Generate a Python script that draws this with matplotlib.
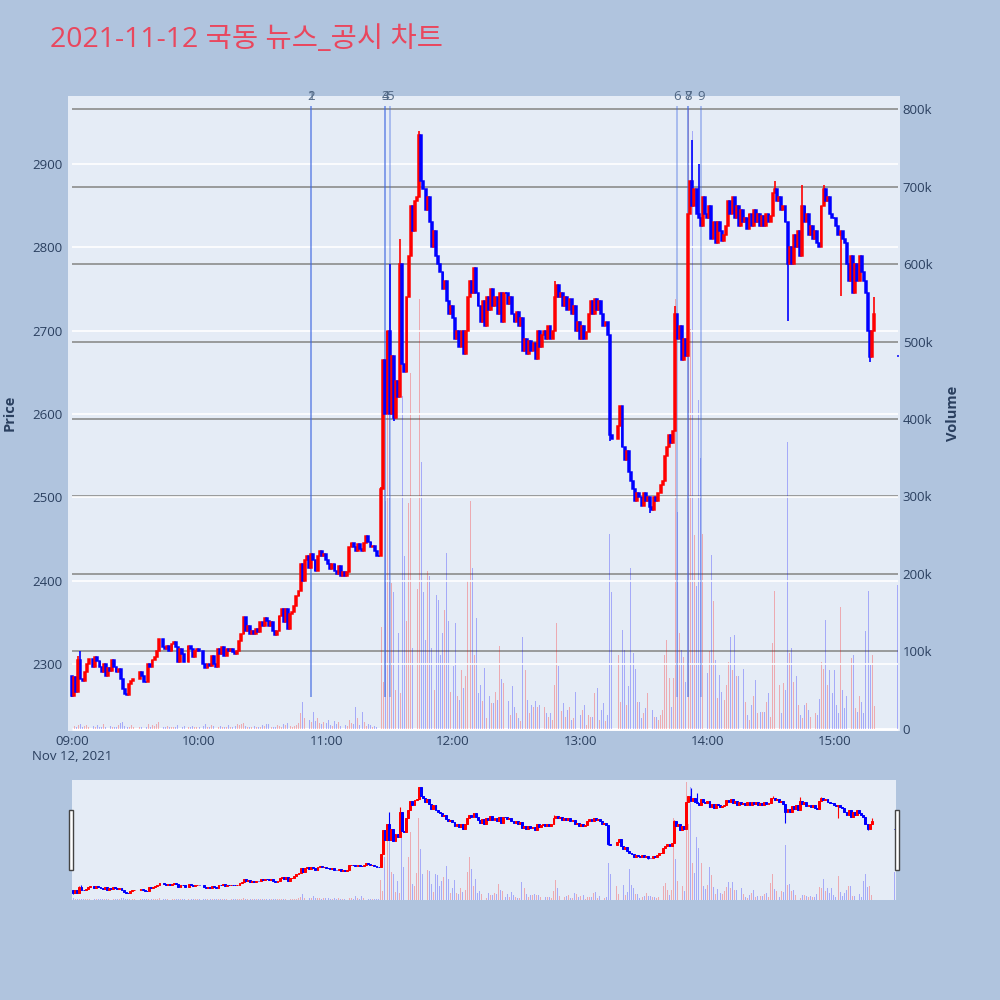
import matplotlib.pyplot as plt
from matplotlib.patches import Rectangle
from matplotlib.transforms import blended_transform_factory

plt.rcParams['font.family'] = ['Open Sans', 'Noto Sans CJK KR', 'DejaVu Sans']

title = '2021-11-12 국동 뉴스_공시 차트'

# 1분봉 종가 (09:00부터 분 단위), None = 체결 없음
first_open = 2285
close_09 = [2262, 2284, 2266, 2305, 2282, 2280, 2290, 2300, 2306, None,
            2296, 2308, 2304, 2296, 2290, 2300, 2286, 2295, 2292, 2305,
            2296, 2290, 2294, 2282, 2270, 2264, 2263, 2276, 2280, 2282,
            None, None, 2290, 2286, 2278, 2278, 2300, 2296, 2305, 2308,
            2316, 2330, None, 2320, 2318, 2322, 2316, 2324, 2326, 2320,
            2302, 2318, 2312, 2302, None, 2322, 2318, 2308, 2315, 2318]
close_10 = [2316, None, 2300, 2295, 2300, 2297, 2310, 2300, 2296, 2318,
            2312, 2320, 2310, 2318, 2316, 2318, 2314, 2312, 2316, 2328,
            2336, 2356, 2340, 2345, 2336, 2340, 2336, 2342, 2338, 2350,
            2346, 2355, 2351, 2345, 2350, 2340, 2335, 2340, 2358, 2366,
            2350, 2366, 2342, 2360, 2362, 2370, 2382, 2388, 2420, 2400,
            2425, 2430, 2415, 2432, 2425, 2412, 2430, 2435, 2430, 2432]
close_11 = [2425, 2420, 2414, 2420, 2412, 2408, 2418, 2406, 2410, 2406,
            2410, 2440, 2445, 2440, 2436, 2444, 2438, 2436, 2445, 2454,
            2446, 2440, 2442, 2435, 2430, 2430, 2510, 2665, 2600, 2700,
            2600, 2670, 2595, 2640, 2620, 2780, 2660, 2650, 2740, 2790,
            2850, 2820, 2855, 2860, 2935, 2880, 2870, 2845, 2860, 2830,
            2800, 2820, 2790, 2780, 2770, 2750, 2760, 2735, 2720, 2730]
close_12 = [2715, 2690, 2700, 2680, 2700, 2672, 2700, 2740, 2760, 2745,
            2775, 2745, 2730, 2710, 2735, 2705, 2740, 2725, 2750, 2730,
            2740, 2720, 2745, 2710, 2745, 2745, 2732, 2740, 2720, 2710,
            2722, 2705, 2715, 2675, 2690, 2672, 2688, 2675, 2685, 2666,
            2700, 2680, 2695, 2700, 2690, 2705, 2690, 2700, 2740, 2755,
            2740, 2745, 2730, 2740, 2725, 2738, 2720, 2730, 2700, 2710]
close_13 = [2690, 2705, 2690, 2698, 2720, 2735, 2720, 2738, 2725, 2735,
            2720, 2705, 2710, 2695, 2575, 2570, None, None, 2585, 2610,
            2560, 2545, 2555, 2530, 2520, 2510, 2495, 2505, 2500, 2490,
            2505, 2495, 2500, 2488, 2485, 2500, 2495, 2505, 2515, 2520,
            2550, 2560, 2575, 2565, 2580, 2720, 2690, 2705, 2665, 2690,
            2670, 2840, 2880, 2850, 2870, 2840, 2835, 2825, 2860, 2840]
close_14 = [2835, 2850, 2810, 2830, 2805, 2830, 2820, 2808, 2815, 2825,
            2855, 2840, 2860, 2835, 2850, 2825, 2845, 2830, 2835, 2822,
            2840, 2825, 2845, 2830, 2840, 2825, 2838, 2826, 2840, 2830,
            2838, 2865, 2870, 2855, 2860, 2845, 2850, 2830, 2780, 2800,
            2780, 2815, 2800, 2820, 2790, 2850, 2830, 2840, 2815, 2825,
            2810, 2820, 2805, 2800, 2850, 2870, 2855, 2860, 2840, 2835]
close_15 = [2835, 2825, 2815, 2820, 2810, 2805, 2780, 2760, 2790, 2745,
            2780, 2760, 2790, 2770, 2760, 2745, 2700, 2668, 2700, 2720]

# 꼬리 (분: 가격)
wick_high = {3: 2310, 4: 2315, 146: 2512, 150: 2780, 155: 2810, 164: 2940,
             228: 2760, 285: 2730, 293: 2929, 296: 2900, 332: 2879,
             345: 2875, 355: 2875, 379: 2740}
wick_low = {0: 2260, 147: 2580, 152: 2592, 254: 2568, 273: 2481,
            338: 2711, 363: 2741, 377: 2662}

# 마지막 체결 (15:30 동시호가)
last_minute = 390
last_price = 2670
last_volume = 186

# 거래량 (천 주)
vol_09 = [9, 4, 3, 5, 6, 3, 4, 5, 3, 0, 4, 3, 5, 3, 2, 6, 3, 2, 4, 3,
          2, 3, 5, 8, 9, 4, 3, 2, 5, 3, 0, 0, 2, 3, 4, 2, 6, 3, 5, 4,
          6, 9, 0, 3, 2, 4, 3, 2, 3, 2, 5, 2, 3, 4, 0, 3, 2, 4, 2, 3]
vol_10 = [2, 0, 4, 6, 3, 2, 5, 4, 2, 3, 4, 3, 2, 3, 5, 3, 2, 4, 6, 5,
          7, 8, 4, 3, 2, 3, 4, 2, 3, 2, 5, 4, 6, 7, 3, 2, 2, 5, 4, 3,
          6, 5, 8, 4, 3, 4, 5, 8, 20, 35, 14, 18, 12, 9, 22, 10, 14, 8, 6, 9]
vol_11 = [8, 12, 5, 4, 10, 6, 9, 4, 3, 5, 4, 12, 8, 6, 28, 14, 5, 22, 9, 4,
          6, 5, 3, 4, 3, 5, 132, 60, 294, 410, 420, 188, 177, 50, 124, 46, 430, 223, 139, 292,
          460, 104, 90, 180, 555, 344, 177, 115, 204, 197, 104, 50, 173, 167, 96, 124, 154, 227, 139, 48]
vol_12 = [81, 137, 42, 38, 76, 53, 68, 191, 294, 208, 96, 143, 46, 57, 36, 79, 14, 42, 33, 33,
          48, 38, 107, 65, 59, 16, 36, 18, 55, 29, 21, 14, 10, 119, 76, 38, 21, 31, 29, 36,
          29, 31, 18, 29, 21, 16, 21, 12, 57, 137, 81, 23, 33, 16, 25, 29, 12, 14, 48, 36]
vol_13 = [18, 25, 31, 5, 18, 16, 16, 46, 53, 12, 25, 33, 10, 18, 251, 177, 0, 0, 96, 35,
          128, 102, 31, 55, 208, 98, 78, 35, 35, 14, 21, 27, 46, 24, 24, 16, 16, 12, 18, 24,
          96, 115, 66, 29, 66, 555, 280, 124, 102, 93, 60, 800, 516, 772, 250, 184, 425, 350, 251, 91]
vol_14 = [72, 100, 225, 165, 89, 40, 70, 48, 37, 57, 86, 119, 76, 121, 68, 68, 55, 78, 35, 18,
          12, 31, 42, 63, 20, 22, 22, 22, 35, 46, 16, 111, 178, 70, 57, 20, 59, 50, 370, 98,
          104, 61, 68, 31, 18, 14, 31, 33, 24, 16, 24, 20, 18, 39, 86, 78, 141, 57, 76, 46]
vol_15 = [76, 31, 20, 158, 50, 27, 42, 63, 91, 96, 27, 22, 42, 35, 20, 126, 178, 83, 96, 30]

# 뉴스/공시 시각 (분)
news_minutes = [113, 113, 148, 148, 150, 286, 291, 291, 297]
news_labels = ['1', '2', '3', '4', '5', '6', '7', '8', '9']

time_ticks = [0, 60, 120, 180, 240, 300, 360]
time_labels = ['09:00\nNov 12, 2021', '10:00', '11:00', '12:00', '13:00', '14:00', '15:00']
price_ticks = [2300, 2400, 2500, 2600, 2700, 2800, 2900]
vol_ticks = [0, 100, 200, 300, 400, 500, 600, 700, 800]

closes = close_09 + close_10 + close_11 + close_12 + close_13 + close_14 + close_15
volumes = vol_09 + vol_10 + vol_11 + vol_12 + vol_13 + vol_14 + vol_15

t, o_, c_, h_, l_, v_ = [], [], [], [], [], []
prev = first_open
for m, c in enumerate(closes):
    if c is None:
        continue
    t.append(m)
    o_.append(prev)
    c_.append(c)
    h_.append(max(prev, c, wick_high.get(m, 0)))
    l_.append(min(prev, c, wick_low.get(m, 99999)))
    v_.append(volumes[m] * 1000)
    prev = c
t.append(last_minute); o_.append(last_price); c_.append(last_price)
h_.append(last_price); l_.append(last_price); v_.append(last_volume * 1000)

UP, DOWN = '#FF0000', '#0000FF'
cols = [UP if c > o else DOWN for o, c in zip(o_, c_)]

BG = '#E5ECF6'
TXT = '#2a3f5f'
P_LIM = (2219.6, 2981.6)
V_LIM = (-2600, 816800)


def draw(ax, axv, lw):
    # 거래량 막대
    vcols = [(1, 0, 0, 0.28) if c == UP else (0, 0, 1, 0.28) for c in cols]
    axv.bar(t, v_, width=0.45, color=vcols, linewidth=0)
    # 캔들
    ax.vlines(t, l_, h_, colors=cols, linewidth=lw, zorder=3)
    bottoms = [min(o, c) for o, c in zip(o_, c_)]
    heights = [abs(c - o) for o, c in zip(o_, c_)]
    ax.bar(t, heights, bottom=bottoms, width=0.9, color=cols,
           edgecolor=cols, linewidth=lw * 0.9, zorder=4)


fig = plt.figure(figsize=(10, 10), dpi=100, facecolor='#B0C4DE')

# 메인 차트
ax = fig.add_axes([0.068, 0.269, 0.832, 0.635])
axv = ax.twinx()
ax.set_zorder(axv.get_zorder() + 1)
ax.patch.set_visible(False)
axv.patch.set_visible(True)
axv.patch.set_facecolor(BG)

ax.hlines(price_ticks, 0, 390, color='white', linewidth=1.2, zorder=0)
axv.hlines([x * 1000 for x in vol_ticks[1:]], 0, 390, color='#8c8c8c', linewidth=1.2, zorder=0)
axv.hlines(0, 0, 390, color='white', linewidth=2, zorder=0)

draw(ax, axv, 1.2)

vmin, vmax = min(l_), max(h_) * 1.01
trans = blended_transform_factory(ax.transData, ax.transAxes)
for m, lab in zip(news_minutes, news_labels):
    ax.vlines(m, vmin, vmax, color='#4169E1', alpha=0.4, linewidth=1.3, zorder=2)
    ax.text(m, 1.0, lab, transform=trans, ha='center', va='center',
            fontsize=9.5, color='#506784')

ax.set_xlim(-1.9, 391.1)
ax.set_ylim(*P_LIM)
axv.set_ylim(*V_LIM)
ax.set_xticks(time_ticks)
ax.set_xticklabels(time_labels)
ax.set_yticks(price_ticks)
axv.set_yticks([x * 1000 for x in vol_ticks])
axv.set_yticklabels(['0'] + [f'{x}k' for x in vol_ticks[1:]])
ax.tick_params(axis='x', length=0, pad=3, labelsize=9.5, labelcolor=TXT)
ax.tick_params(axis='y', length=0, pad=4, labelsize=9.5, labelcolor=TXT)
axv.tick_params(axis='y', length=0, pad=2, labelsize=9.5, labelcolor=TXT)
for a in (ax, axv):
    for s in a.spines.values():
        s.set_visible(False)

fig.text(0.010, 0.587, 'Price', rotation=90, ha='center', va='center',
         fontsize=10.5, fontweight='bold', color=TXT)
fig.text(0.953, 0.587, 'Volume', rotation=90, ha='center', va='center',
         fontsize=10.5, fontweight='bold', color=TXT)
fig.text(0.05, 0.960, title, fontsize=20.5, color='#E9475E', va='center', ha='left')

# 레인지 슬라이더
axs = fig.add_axes([0.072, 0.100, 0.824, 0.120])
axsv = axs.twinx()
axs.set_zorder(axsv.get_zorder() + 1)
axs.patch.set_visible(False)
axsv.patch.set_visible(True)
axsv.patch.set_facecolor(BG)
draw(axs, axsv, 0.8)
axs.set_xlim(-0.5, 390.5)
axs.set_ylim(*P_LIM)
axsv.set_ylim(*V_LIM)
for a in (axs, axsv):
    a.set_xticks([])
    a.set_yticks([])
    for s in a.spines.values():
        s.set_visible(False)

for x0 in (0.069, 0.895):
    fig.patches.append(Rectangle((x0, 0.130), 0.004, 0.060, transform=fig.transFigure,
                                 facecolor='white', edgecolor='#444444', linewidth=1))

fig.savefig('out.png', dpi=100, facecolor=fig.get_facecolor())
